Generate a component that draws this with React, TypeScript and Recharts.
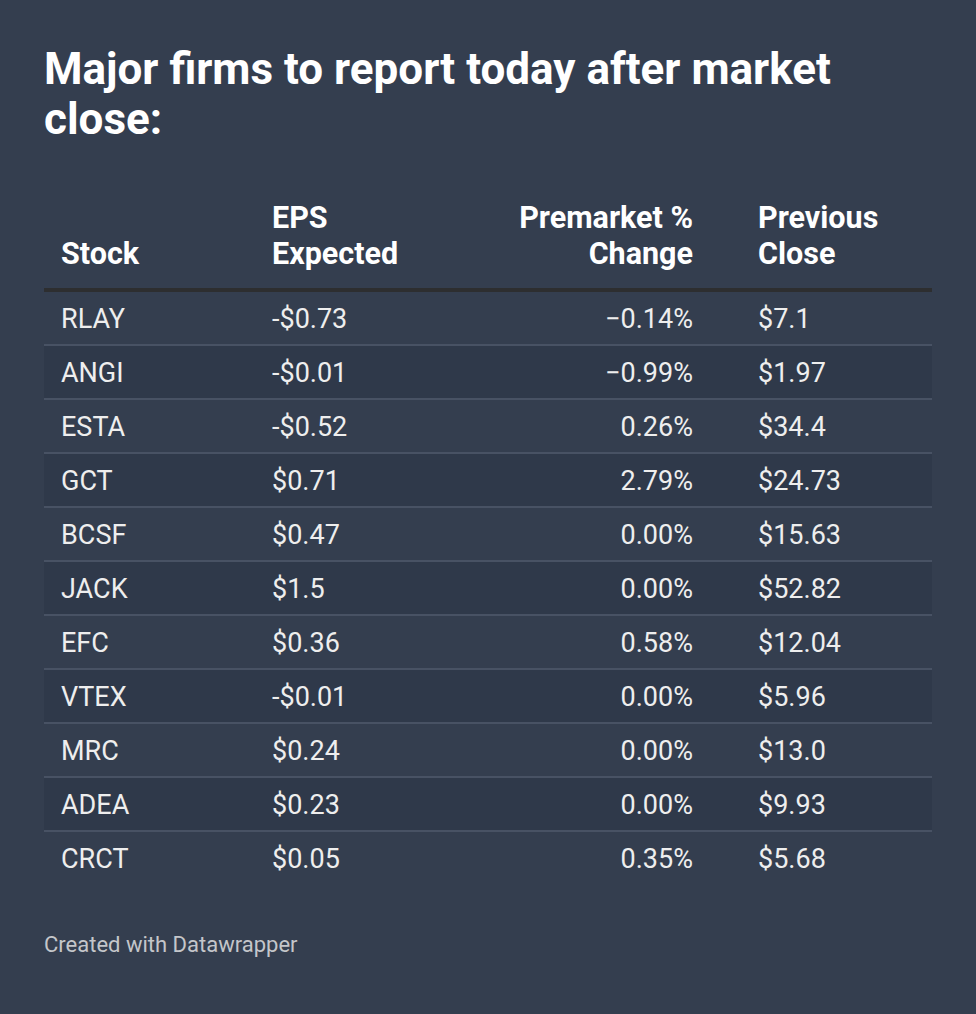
import React from "react";
import { BarChart, Bar, XAxis, YAxis } from "recharts";

const stocks = ["RLAY", "ANGI", "ESTA", "GCT", "BCSF", "JACK", "EFC", "VTEX", "MRC", "ADEA", "CRCT"];
const epsExpected = [-0.73, -0.01, -0.52, 0.71, 0.47, 1.5, 0.36, -0.01, 0.24, 0.23, 0.05];
const premarketChange = [-0.14, -0.99, 0.26, 2.79, 0.0, 0.0, 0.58, 0.0, 0.0, 0.0, 0.35];
const previousClose = ["7.1", "1.97", "34.4", "24.73", "15.63", "52.82", "12.04", "5.96", "13.0", "9.93", "5.68"];

const rows = stocks.map((stock, i) => ({
  stock,
  eps: epsExpected[i],
  change: premarketChange[i],
  close: previousClose[i],
}));

const BG = "#343e4f";
const STRIPE = "#2f394a";
const RULE = "#485264";
const FONT = "Roboto, 'Noto Sans', sans-serif";

const COL_STOCK = 61;
const COL_EPS = 272;
const COL_CHANGE = 693;
const COL_CLOSE = 758;
const TABLE_LEFT = 44;
const TABLE_WIDTH = 888;
const ROW_H = 54;

const fmtEps = (v: number) => (v < 0 ? "-$" : "$") + String(Math.abs(v));
const fmtChange = (v: number) => (v < 0 ? "\u2212" : "") + Math.abs(v).toFixed(2) + "%";

function RowTick(props: any) {
  const { y, payload } = props;
  const index = stocks.indexOf(payload?.value);
  const row = rows[index];
  if (!row) return null;
  const top = y - ROW_H / 2;
  const textY = y + 9;
  const textStyle = { fontFamily: FONT, fontSize: 27, fill: "#eeeeee" };
  return (
    <g>
      {index % 2 === 1 && (
        <rect x={TABLE_LEFT} y={top} width={TABLE_WIDTH} height={ROW_H} fill={STRIPE} />
      )}
      {index < rows.length - 1 && (
        <rect x={TABLE_LEFT} y={top + ROW_H - 2} width={TABLE_WIDTH} height={2} fill={RULE} />
      )}
      <text x={COL_STOCK} y={textY} textAnchor="start" {...textStyle}>{row.stock}</text>
      <text x={COL_EPS} y={textY} textAnchor="start" {...textStyle}>{fmtEps(row.eps)}</text>
      <text x={COL_CHANGE} y={textY} textAnchor="end" {...textStyle}>{fmtChange(row.change)}</text>
      <text x={COL_CLOSE} y={textY} textAnchor="start" {...textStyle}>{"$" + row.close}</text>
    </g>
  );
}

const headStyle: React.CSSProperties = {
  position: "absolute",
  top: 200,
  fontSize: 30.5,
  fontWeight: 700,
  lineHeight: "36px",
  color: "#ffffff",
  whiteSpace: "nowrap",
};

export default function App() {
  return (
    <div
      style={{
        position: "absolute",
        left: 0,
        top: 0,
        width: 976,
        height: 1014,
        background: BG,
        fontFamily: FONT,
        overflow: "hidden",
      }}
    >
      <div
        style={{
          position: "absolute",
          left: 44,
          top: 44,
          width: 880,
          fontSize: 44,
          fontWeight: 700,
          lineHeight: "50px",
          color: "#ffffff",
        }}
      >
        Major firms to report today after market close:
      </div>

      <div style={{ ...headStyle, left: COL_STOCK, top: 236 }}>Stock</div>
      <div style={{ ...headStyle, left: COL_EPS }}>
        EPS
        <br />
        Expected
      </div>
      <div style={{ ...headStyle, left: COL_CHANGE - 300, width: 300, textAlign: "right" }}>
        Premarket %
        <br />
        Change
      </div>
      <div style={{ ...headStyle, left: COL_CLOSE }}>
        Previous
        <br />
        Close
      </div>
      <div
        style={{
          position: "absolute",
          left: TABLE_LEFT,
          top: 288,
          width: TABLE_WIDTH,
          height: 4,
          background: "#2d2e30",
        }}
      />

      <div style={{ position: "absolute", left: 0, top: 190 }}>
        <BarChart
          width={976}
          height={708}
          data={rows}
          layout="vertical"
          margin={{ top: 102, right: 44, bottom: 12, left: 43 }}
        >
          <XAxis type="number" hide />
          <YAxis
            type="category"
            dataKey="stock"
            width={1}
            axisLine={false}
            tickLine={false}
            interval={0}
            tick={(p: any) => <RowTick {...p} />}
          />
          <Bar dataKey="change" fill="transparent" isAnimationActive={false} />
        </BarChart>
      </div>

      <div
        style={{
          position: "absolute",
          left: 44,
          top: 932,
          fontSize: 22,
          lineHeight: "26px",
          color: "#c4c6ca",
        }}
      >
        Created with Datawrapper
      </div>
    </div>
  );
}
